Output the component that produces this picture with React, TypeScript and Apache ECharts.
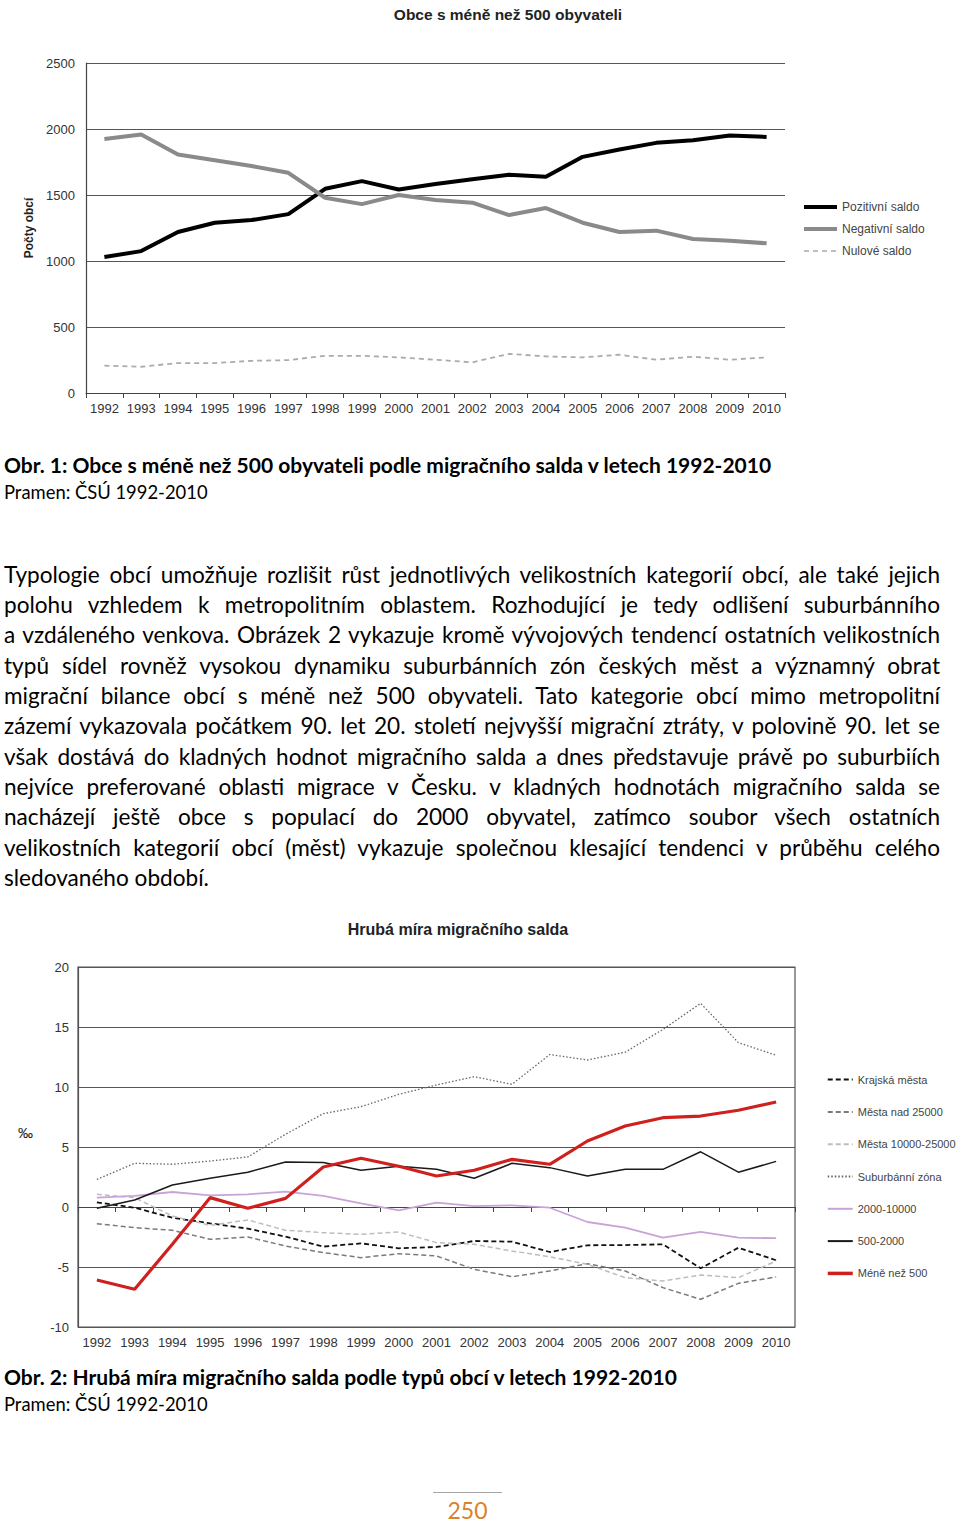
import React, { useEffect, useRef } from "react";
import * as echarts from "echarts";

const years = ["1992","1993","1994","1995","1996","1997","1998","1999","2000","2001","2002","2003","2004","2005","2006","2007","2008","2009","2010"];

// Chart 1 – Obce s méně než 500 obyvateli
const pozitivni = [1030,1075,1220,1290,1310,1355,1547,1605,1542,1583,1620,1653,1638,1789,1845,1895,1915,1950,1940];
const negativni = [1925,1958,1807,1764,1719,1668,1479,1431,1500,1462,1442,1348,1401,1290,1220,1230,1167,1154,1134];
const nulove = [207,199,227,227,244,249,282,282,270,252,232,297,277,270,290,252,275,252,270];

// Chart 2 – Hrubá míra migračního salda
const krajskaMesta = [0.39,-0.06,-0.89,-1.36,-1.8,-2.47,-3.3,-3.03,-3.44,-3.33,-2.83,-2.89,-3.75,-3.19,-3.17,-3.11,-5.11,-3.39,-4.44];
const mestaNad25000 = [-1.39,-1.72,-1.94,-2.69,-2.5,-3.25,-3.8,-4.22,-3.89,-4.08,-5.19,-5.81,-5.33,-4.72,-5.33,-6.72,-7.69,-6.36,-5.83];
const mesta10000 = [1.06,0.78,-0.75,-1.53,-1.08,-1.94,-2.14,-2.28,-2.08,-2.97,-3.11,-3.67,-4.14,-4.78,-5.89,-6.17,-5.67,-5.89,-4.5];
const suburbanni = [2.3,3.64,3.56,3.83,4.17,6.06,7.78,8.36,9.39,10.17,10.86,10.22,12.7,12.25,12.9,14.8,16.97,13.7,12.64];
const obce2000_10000 = [0.78,0.92,1.25,0.97,1.06,1.28,0.92,0.3,-0.28,0.36,0.08,0.14,-0.06,-1.25,-1.72,-2.56,-2.08,-2.56,-2.6];
const obce500_2000 = [-0.1,0.58,1.83,2.4,2.9,3.75,3.7,3.06,3.4,3.14,2.4,3.64,3.28,2.58,3.14,3.14,4.6,2.9,3.8];
const mene500 = [-6.08,-6.86,-3.1,0.78,-0.1,0.72,3.33,4.06,3.4,2.58,3.06,3.97,3.56,5.5,6.75,7.44,7.58,8.06,8.75];

const paragraphLines = [
  "Typologie obcí umožňuje rozlišit růst jednotlivých velikostních kategorií obcí, ale také jejich",
  "polohu vzhledem k\u00a0metropolitním oblastem. Rozhodující je tedy odlišení suburbánního",
  "a\u00a0vzdáleného venkova. Obrázek 2 vykazuje kromě vývojových tendencí ostatních velikostních",
  "typů sídel rovněž vysokou dynamiku suburbánních zón českých měst a\u00a0významný obrat",
  "migrační bilance obcí s\u00a0méně než 500 obyvateli. Tato kategorie obcí mimo metropolitní",
  "zázemí vykazovala počátkem 90. let 20. století nejvyšší migrační ztráty, v\u00a0polovině 90. let se",
  "však dostává do kladných hodnot migračního salda a dnes představuje právě po suburbiích",
  "nejvíce preferované oblasti migrace v\u00a0Česku. v\u00a0kladných hodnotách migračního salda se",
  "nacházejí ještě obce s\u00a0populací do 2000 obyvatel, zatímco soubor všech ostatních",
  "velikostních kategorií obcí (měst) vykazuje společnou klesající tendenci v\u00a0průběhu celého",
  "sledovaného období.",
];

const chartFont = "'Liberation Sans', Arial, sans-serif";
const textFont = "Lato, 'Open Sans', sans-serif";

function Chart1() {
  const ref = useRef<HTMLDivElement>(null);
  useEffect(() => {
    const chart = echarts.init(ref.current!, undefined, { renderer: "svg" });
    chart.setOption({
      animation: false,
      textStyle: { fontFamily: chartFont },
      title: {
        text: "Obce s méně než 500 obyvateli",
        left: 503,
        textAlign: "center",
        top: 1,
        textStyle: { fontSize: 15.5, fontWeight: "bold", color: "#222", fontFamily: chartFont },
      },
      grid: { left: 86, right: 175, top: 63, bottom: 27 },
      legend: {
        orient: "vertical",
        left: 797,
        top: 196,
        itemWidth: 33,
        itemHeight: 14,
        itemGap: 10,
        itemStyle: { opacity: 0 },
        textStyle: { fontSize: 12, color: "#444", fontFamily: chartFont },
        data: [
          { name: "Pozitivní saldo", lineStyle: { width: 4 } },
          { name: "Negativní saldo", lineStyle: { width: 4 } },
          { name: "Nulové saldo", lineStyle: { width: 1.5 } },
        ],
      },
      xAxis: {
        type: "category",
        data: years,
        boundaryGap: true,
        axisLine: { lineStyle: { color: "#444", width: 1.2 } },
        axisTick: { show: true, length: 5, lineStyle: { color: "#444" } },
        axisLabel: { fontSize: 13, color: "#333", margin: 9, interval: 0 },
      },
      yAxis: {
        type: "value",
        min: 0,
        max: 2500,
        interval: 500,
        name: "Počty obcí",
        nameLocation: "middle",
        nameRotate: 90,
        nameGap: 39,
        nameTextStyle: { fontSize: 12, fontWeight: "bold", color: "#222", fontFamily: chartFont },
        axisLine: { show: true, lineStyle: { color: "#444", width: 1.2 } },
        axisTick: { show: false },
        axisLabel: { fontSize: 13, color: "#333", margin: 11, formatter: (v: number) => String(v) },
        splitLine: { lineStyle: { color: "#555", width: 1.2 } },
      },
      series: [
        { name: "Pozitivní saldo", type: "line", data: pozitivni, symbol: "none", lineStyle: { color: "#000", width: 4 }, itemStyle: { color: "#000" } },
        { name: "Negativní saldo", type: "line", data: negativni, symbol: "none", lineStyle: { color: "#8a8a8a", width: 4 }, itemStyle: { color: "#8a8a8a" } },
        { name: "Nulové saldo", type: "line", data: nulove, symbol: "none", lineStyle: { color: "#ababab", width: 1.8, type: [5, 4] }, itemStyle: { color: "#ababab" } },
      ],
    });
    return () => chart.dispose();
  }, []);
  return <div ref={ref} style={{ position: "absolute", left: 0, top: 0, width: 960, height: 420 }} />;
}

function Chart2() {
  const ref = useRef<HTMLDivElement>(null);
  useEffect(() => {
    const chart = echarts.init(ref.current!, undefined, { renderer: "svg" });
    const mk = (name: string, data: number[], color: string, width: number, type: any) => ({
      name,
      type: "line",
      data,
      symbol: "none",
      xAxisIndex: 0,
      lineStyle: { color, width, type },
      itemStyle: { color },
    });
    chart.setOption({
      animation: false,
      textStyle: { fontFamily: chartFont },
      title: {
        text: "Hrubá míra migračního salda",
        left: 453,
        textAlign: "center",
        top: 6,
        textStyle: { fontSize: 16, fontWeight: "bold", color: "#222", fontFamily: chartFont },
      },
      graphic: [
        { type: "text", left: 18, top: 215, style: { text: "‰", fontSize: 15, fill: "#222", fontFamily: chartFont } },
      ],
      grid: { left: 78, right: 165, top: 57, bottom: 28, show: true, borderColor: "#555", borderWidth: 1.2 },
      legend: {
        orient: "vertical",
        left: 821,
        top: 159,
        itemWidth: 25,
        itemHeight: 14,
        itemGap: 21.1,
        itemStyle: { opacity: 0 },
        textStyle: { fontSize: 11, color: "#444", fontFamily: chartFont },
        data: [
          "Krajská města",
          "Města nad 25000",
          "Města 10000-25000",
          "Suburbánní zóna",
          "2000-10000",
          "500-2000",
          { name: "Méně než 500", lineStyle: { width: 3.5 } },
        ],
      },
      xAxis: [
        {
          type: "category",
          data: years,
          boundaryGap: true,
          axisLine: { show: false, onZero: false },
          axisTick: { show: false },
          axisLabel: { fontSize: 13, color: "#333", margin: 9, interval: 0 },
        },
        {
          type: "category",
          data: years,
          boundaryGap: true,
          position: "bottom",
          axisLine: { show: true, onZero: true, lineStyle: { color: "#444", width: 1.2 } },
          axisTick: { show: true, length: 5, lineStyle: { color: "#444" } },
          axisLabel: { show: false },
        },
      ],
      yAxis: {
        type: "value",
        min: -10,
        max: 20,
        interval: 5,
        axisLine: { show: true, lineStyle: { color: "#555", width: 1.2 } },
        axisTick: { show: false },
        axisLabel: { fontSize: 13, color: "#333", margin: 9 },
        splitLine: { lineStyle: { color: "#555", width: 1.2 } },
      },
      series: [
        mk("Krajská města", krajskaMesta, "#111", 1.8, [5, 3]),
        mk("Města nad 25000", mestaNad25000, "#7a7a7a", 1.5, [5, 3]),
        mk("Města 10000-25000", mesta10000, "#bdbdbd", 1.5, [5, 3]),
        mk("Suburbánní zóna", suburbanni, "#666", 1.3, [1.5, 2]),
        mk("2000-10000", obce2000_10000, "#c8a3d8", 1.8, "solid"),
        mk("500-2000", obce500_2000, "#1a1a1a", 1.5, "solid"),
        mk("Méně než 500", mene500, "#d0201e", 3.2, "solid"),
      ],
    });
    return () => chart.dispose();
  }, []);
  return <div ref={ref} style={{ position: "absolute", left: 0, top: 910, width: 960, height: 445 }} />;
}

export default function App() {
  const lineH = 30.3;
  return (
    <div style={{ position: "absolute", left: 0, top: 0, width: 960, height: 1524, background: "#fff", overflow: "hidden", fontFamily: textFont, color: "#000" }}>
      <Chart1 />
      <div style={{ position: "absolute", left: 4, top: 451, fontSize: 21, fontWeight: "bold", lineHeight: "28px", whiteSpace: "nowrap" }}>
        Obr. 1: Obce s méně než 500 obyvateli podle migračního salda v letech 1992-2010
      </div>
      <div style={{ position: "absolute", left: 4, top: 480, fontSize: 18.4, lineHeight: "24px", whiteSpace: "nowrap" }}>
        Pramen: ČSÚ 1992-2010
      </div>
      <div style={{ position: "absolute", left: 4, top: 575 - lineH / 2, width: 936, fontSize: 22.6, lineHeight: lineH + "px" }}>
        {paragraphLines.map((l, i) => (
          <div
            key={i}
            style={{
              textAlign: i === paragraphLines.length - 1 ? "left" : "justify",
              textAlignLast: i === paragraphLines.length - 1 ? "left" : "justify",
              height: lineH,
              whiteSpace: "nowrap",
              overflow: "visible",
            }}
          >
            {l}
          </div>
        ))}
      </div>
      <Chart2 />
      <div style={{ position: "absolute", left: 4, top: 1363, fontSize: 21, fontWeight: "bold", lineHeight: "28px", whiteSpace: "nowrap" }}>
        Obr. 2: Hrubá míra migračního salda podle typů obcí v letech 1992-2010
      </div>
      <div style={{ position: "absolute", left: 4, top: 1392, fontSize: 18.4, lineHeight: "24px", whiteSpace: "nowrap" }}>
        Pramen: ČSÚ 1992-2010
      </div>
      <div style={{ position: "absolute", left: 433, top: 1492, width: 69, height: 1, background: "#a6a6a6" }} />
      <div style={{ position: "absolute", left: 433, top: 1496, width: 69, textAlign: "center", fontSize: 23, lineHeight: "28px", color: "#d9822b" }}>
        250
      </div>
    </div>
  );
}
